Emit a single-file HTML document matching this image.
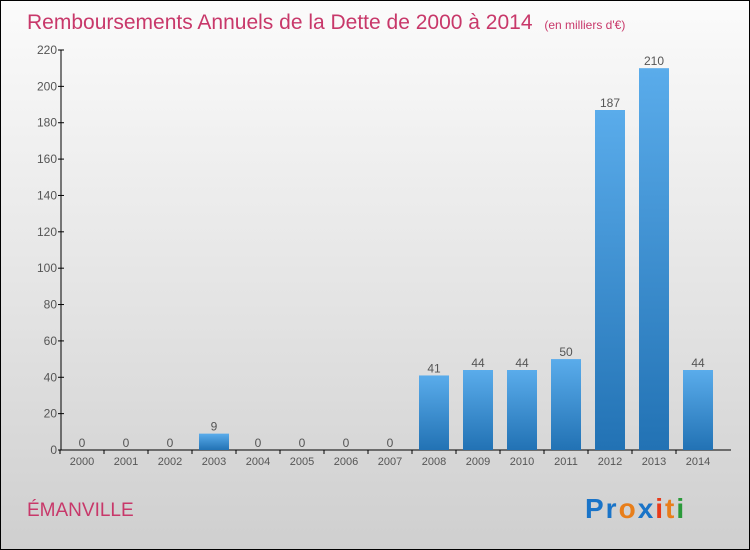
<!DOCTYPE html>
<html><head><meta charset="utf-8"><style>
html,body{margin:0;padding:0}
body{width:750px;height:550px;overflow:hidden;font-family:"Liberation Sans",sans-serif}
#c{position:relative;width:748px;height:548px;border:1px solid #000;background:linear-gradient(#fbfbfb,#e6e6e6 50%,#cfcfcf)}
</style></head><body>
<div id="c">
<svg id="s" width="748" height="548" style="position:absolute;left:0;top:0">
<defs><linearGradient id="g" x1="0" y1="0" x2="0" y2="1"><stop offset="0" stop-color="#5aaceb"/><stop offset="1" stop-color="#2272b4"/></linearGradient></defs>
<text x="26" y="28" font-size="21" fill="#c8386a">Remboursements Annuels de la Dette de 2000 à 2014 <tspan font-size="12" dx="6">(en milliers d'€)</tspan></text>
<text x="26" y="515" font-size="19" fill="#c8386a">ÉMANVILLE</text>
<g font-size="28" font-weight="bold">
<text x="584" y="517" letter-spacing="2"><tspan fill="#1a74c8">Pr</tspan><tspan fill="#e87e1a">o</tspan><tspan fill="#1a74c8">x</tspan><tspan fill="#e83a1a">i</tspan><tspan fill="#e87e1a">t</tspan><tspan fill="#2a9a3a">i</tspan></text></g>
<g id="ax"></g><g id="bars"></g>
</svg></div>
<script>
const years=["2000","2001","2002","2003","2004","2005","2006","2007","2008","2009","2010","2011","2012","2013","2014"];
const values=[0,0,0,9,0,0,0,0,41,44,44,50,187,210,44];
const yTicks=[0,20,40,60,80,100,120,140,160,180,200,220];
const NS="http://www.w3.org/2000/svg";
const y0=449,yTop=49,yMax=220,x0=65,step=44,bw=30;
const ys=v=>y0-(v/yMax)*(y0-yTop);
const xs=i=>x0+16+i*step;
function mk(t,a,p){const e=document.createElementNS(NS,t);for(const k in a)e.setAttribute(k,a[k]);p.appendChild(e);return e;}
const ax=document.getElementById('ax'),bars=document.getElementById('bars');
const yl=mk('line',{x1:x0-5,y1:y0,x2:x0-5,y2:yTop,stroke:'#000'},ax);


const xl=mk('line',{x1:x0-5,y1:y0,x2:x0+15*step+5,y2:y0,stroke:'#000'},ax);


yTicks.forEach(v=>{const y=ys(v);
mk('line',{x1:x0-8,y1:y,x2:x0-2,y2:y,stroke:'#000'},ax);
const t=mk('text',{x:x0-9,y:y+4,'font-size':12,fill:'#555','text-anchor':'end'},ax);t.textContent=v;

});
years.forEach((yr,i)=>{const cx=xs(i),v=values[i];
mk('line',{x1:cx-22,y1:y0,x2:cx-22,y2:y0+4,stroke:'#000'},ax);
const t=mk('text',{x:cx,y:y0+15,'font-size':11,fill:'#555','text-anchor':'middle'},ax);t.textContent=yr;


if(v>0){const r=mk('rect',{x:cx-bw/2,y:ys(v),width:bw,height:y0-ys(v),fill:'url(#g)'},bars);

}
const l=mk('text',{x:cx,y:ys(v)-3,'font-size':12,fill:'#555','text-anchor':'middle'},bars);l.textContent=v;

});
</script>
</body></html>
